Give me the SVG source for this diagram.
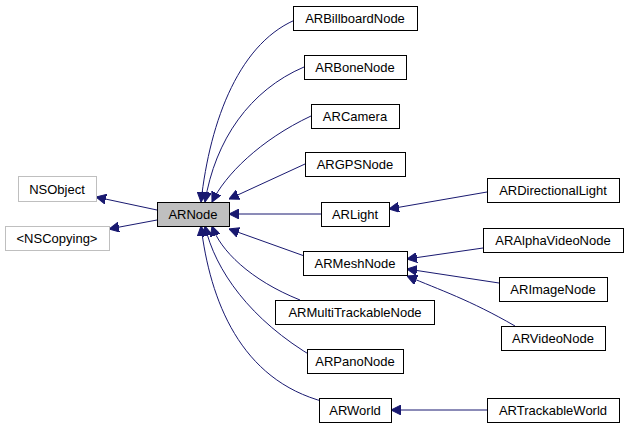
<svg xmlns="http://www.w3.org/2000/svg" width="629" height="429" viewBox="0 0 629 429">
<style>
.n rect{fill:#fff;stroke:#000;stroke-width:1}
.g rect{fill:#fff;stroke:#bfbfbf;stroke-width:1}
text{font-family:"Liberation Sans",Arial,sans-serif;font-size:13px;text-anchor:middle}
.e path{fill:none;stroke:#191970;stroke-width:1;marker-end:url(#a)}
</style>
<defs><marker id="a" viewBox="0 0 10 10" refX="10" refY="5" markerWidth="10" markerHeight="10" markerUnits="userSpaceOnUse" orient="auto"><path d="M0,0 L10,5 L0,10 z" fill="#191970" stroke="#191970"/></marker></defs>
<g class="e">
<path d="M157,210 L96,197"/>
<path d="M157,220 L109,229"/>
<path d="M300,18 C240,40 210,120 201,202"/>
<path d="M304,67 C250,90 215,140 205,202"/>
<path d="M311,116 C260,140 225,175 212,202"/>
<path d="M305,164 L229,199"/>
<path d="M321,214 L229,214"/>
<path d="M310,258 L229,229"/>
<path d="M300,300 C250,280 220,250 212,226"/>
<path d="M315,358 C250,320 215,270 205,226"/>
<path d="M325,402 C240,380 210,300 201,226"/>
<path d="M487,192 L389,209"/>
<path d="M483,248 L407,259"/>
<path d="M499,283 L407,269"/>
<path d="M515,326 C470,300 440,290 407,276"/>
<path d="M487,410 L391,410"/>
</g>
<g id="NSObject" class="g"><rect x="18.5" y="176.5" width="78" height="25"/><text x="57" y="194">NSObject</text></g>
<g id="NSCopying" class="g"><rect x="5.5" y="226.5" width="104" height="24"/><text x="57" y="243">&lt;NSCopying&gt;</text></g>
<g id="ARNode" class="n"><rect x="157.5" y="202.5" width="72" height="24" style="fill:#bfbfbf"/><text x="193" y="219">ARNode</text></g>
<g id="ARBillboardNode" class="n"><rect x="293.5" y="6.5" width="124" height="24"/><text x="355" y="23">ARBillboardNode</text></g>
<g id="ARBoneNode" class="n"><rect x="304.5" y="55.5" width="102" height="24"/><text x="355" y="72">ARBoneNode</text></g>
<g id="ARCamera" class="n"><rect x="311.5" y="104.5" width="88" height="24"/><text x="355" y="121">ARCamera</text></g>
<g id="ARGPSNode" class="n"><rect x="305.5" y="152.5" width="100" height="24"/><text x="355" y="169">ARGPSNode</text></g>
<g id="ARLight" class="n"><rect x="321.5" y="202.5" width="68" height="24"/><text x="355" y="219">ARLight</text></g>
<g id="ARMeshNode" class="n"><rect x="303.5" y="251.5" width="104" height="24"/><text x="355" y="268">ARMeshNode</text></g>
<g id="ARMultiTrackableNode" class="n"><rect x="275.5" y="300.5" width="159" height="24"/><text x="355" y="317">ARMultiTrackableNode</text></g>
<g id="ARPanoNode" class="n"><rect x="307.5" y="349.5" width="96" height="24"/><text x="355" y="366">ARPanoNode</text></g>
<g id="ARWorld" class="n"><rect x="319.5" y="398.5" width="72" height="24"/><text x="355" y="415">ARWorld</text></g>
<g id="ARDirectionalLight" class="n"><rect x="487.5" y="178.5" width="132" height="24"/><text x="553" y="195">ARDirectionalLight</text></g>
<g id="ARAlphaVideoNode" class="n"><rect x="483.5" y="228.5" width="140" height="24"/><text x="553" y="245">ARAlphaVideoNode</text></g>
<g id="ARImageNode" class="n"><rect x="499.5" y="277.5" width="108" height="24"/><text x="553" y="294">ARImageNode</text></g>
<g id="ARVideoNode" class="n"><rect x="501.5" y="326.5" width="104" height="24"/><text x="553" y="343">ARVideoNode</text></g>
<g id="ARTrackableWorld" class="n"><rect x="487.5" y="398.5" width="132" height="24"/><text x="553" y="415">ARTrackableWorld</text></g>
</svg>
